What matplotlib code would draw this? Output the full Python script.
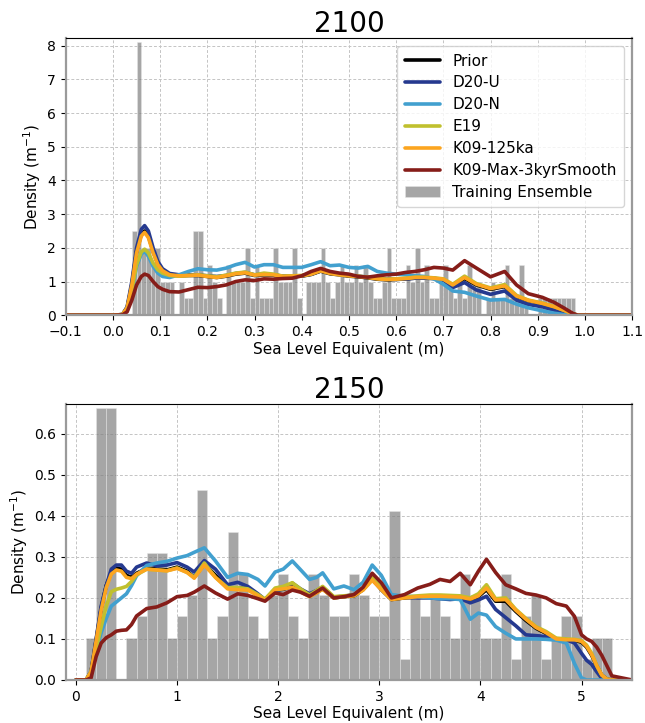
import matplotlib
matplotlib.use("Agg")
import matplotlib.pyplot as plt
import numpy as np

# ---------------- data: 2100 ----------------
hist_2100_left = np.round(np.arange(0.04, 0.98, 0.01), 2)
hist_2100_height = [2.5, 8.1, 2.0, 2.0, 1.5, 2.0, 1.0, 1.0, 1.0, 0.0,
                    1.0, 0.5, 0.5, 2.5, 2.5, 0.5, 1.5, 1.0, 0.5, 0.0,
                    1.5, 1.0, 1.0, 1.0, 2.0, 0.5, 1.5, 0.5, 0.5, 0.5,
                    2.0, 1.0, 1.0, 1.0, 2.0, 0.5, 0.0, 1.0, 1.0, 1.0,
                    2.0, 1.0, 0.5, 1.0, 1.5, 1.0, 1.0, 1.5, 1.0, 1.5,
                    1.0, 0.5, 0.5, 1.0, 2.0, 0.5, 0.5, 0.5, 1.5, 1.0,
                    2.0, 1.0, 1.5, 0.5, 0.5, 1.0, 1.5, 1.0, 0.5, 1.0,
                    0.5, 1.5, 1.0, 1.0, 0.0, 0.5, 1.0, 0.5, 0.5, 1.5,
                    0.5, 0.5, 1.5, 0.5, 0.0, 0.0, 0.5, 0.5, 0.5, 0.5,
                    0.5, 0.5, 0.5, 0.5]

x_2100 = [-0.1, 0.0, 0.02, 0.03, 0.04, 0.05, 0.06, 0.067, 0.075, 0.085,
          0.095, 0.105, 0.12, 0.14, 0.16, 0.18, 0.2, 0.22, 0.24, 0.26,
          0.28, 0.3, 0.32, 0.34, 0.36, 0.38, 0.4, 0.42, 0.44, 0.46,
          0.48, 0.5, 0.52, 0.54, 0.56, 0.58, 0.6, 0.62, 0.64, 0.66,
          0.68, 0.7, 0.72, 0.745, 0.77, 0.8, 0.83, 0.855, 0.88, 0.91,
          0.935, 0.955, 0.975, 0.985, 1.0, 1.1]

prior_2100 = [0, 0, 0.02, 0.22, 0.92, 1.9, 2.4, 2.5, 2.35, 1.9,
              1.52, 1.33, 1.21, 1.17, 1.18, 1.18, 1.15, 1.12, 1.16, 1.22,
              1.25, 1.18, 1.2, 1.19, 1.15, 1.15, 1.16, 1.21, 1.31, 1.23,
              1.2, 1.16, 1.14, 1.11, 1.07, 1.05, 1.06, 1.08, 1.1, 1.1,
              1.09, 1.05, 0.88, 1.09, 0.9, 0.77, 0.85, 0.56, 0.43, 0.34,
              0.24, 0.14, 0.04, 0, 0, 0]
d20u_2100 = [0, 0, 0.02, 0.25, 1.0, 2.0, 2.55, 2.66, 2.5, 2.0,
             1.6, 1.38, 1.24, 1.2, 1.2, 1.2, 1.17, 1.15, 1.18, 1.24,
             1.27, 1.2, 1.22, 1.2, 1.16, 1.16, 1.17, 1.22, 1.32, 1.25,
             1.22, 1.18, 1.16, 1.13, 1.1, 1.07, 1.07, 1.08, 1.1, 1.1,
             1.1, 1.05, 0.82, 0.97, 0.75, 0.62, 0.72, 0.45, 0.32, 0.25,
             0.15, 0.08, 0.02, 0, 0, 0]
d20n_2100 = [0, 0, 0.02, 0.18, 0.7, 1.45, 1.82, 1.9, 1.75, 1.45,
             1.25, 1.15, 1.12, 1.2, 1.3, 1.38, 1.35, 1.34, 1.4, 1.5,
             1.57, 1.43, 1.5, 1.5, 1.42, 1.42, 1.42, 1.5, 1.59, 1.47,
             1.49, 1.42, 1.4, 1.45, 1.3, 1.25, 1.22, 1.2, 1.17, 1.15,
             1.08, 0.92, 0.72, 0.68, 0.57, 0.45, 0.47, 0.33, 0.22, 0.13,
             0.06, 0.02, 0, 0, 0, 0]
e19_2100 = [0, 0, 0.02, 0.2, 0.75, 1.5, 1.88, 1.96, 1.85, 1.55,
            1.35, 1.25, 1.18, 1.16, 1.18, 1.2, 1.17, 1.14, 1.19, 1.25,
            1.28, 1.2, 1.25, 1.22, 1.16, 1.17, 1.18, 1.23, 1.33, 1.25,
            1.21, 1.18, 1.16, 1.13, 1.09, 1.07, 1.08, 1.1, 1.13, 1.13,
            1.11, 1.08, 0.92, 1.16, 0.94, 0.81, 0.91, 0.59, 0.45, 0.36,
            0.26, 0.15, 0.04, 0, 0, 0]
k09_125_2100 = [0, 0, 0.02, 0.22, 0.9, 1.85, 2.35, 2.46, 2.3, 1.85,
                1.5, 1.32, 1.2, 1.17, 1.18, 1.19, 1.15, 1.12, 1.17, 1.23,
                1.26, 1.19, 1.21, 1.2, 1.15, 1.16, 1.17, 1.22, 1.32, 1.24,
                1.2, 1.17, 1.15, 1.12, 1.08, 1.06, 1.07, 1.09, 1.12, 1.12,
                1.1, 1.07, 0.9, 1.12, 0.92, 0.79, 0.87, 0.57, 0.44, 0.35,
                0.25, 0.15, 0.04, 0, 0, 0]
k09_max_2100 = [0, 0, 0.01, 0.1, 0.45, 0.9, 1.15, 1.22, 1.18, 1.0,
                0.85, 0.77, 0.7, 0.69, 0.76, 0.83, 0.82, 0.85, 0.9, 1.0,
                1.05, 1.03, 1.08, 1.07, 1.09, 1.1, 1.17, 1.3, 1.39, 1.3,
                1.25, 1.22, 1.15, 1.13, 1.17, 1.2, 1.22, 1.27, 1.3, 1.35,
                1.42, 1.4, 1.34, 1.62, 1.4, 1.14, 1.3, 0.9, 0.64, 0.53,
                0.38, 0.22, 0.05, 0, 0, 0]

# ---------------- data: 2150 ----------------
hist_2150_left = np.round(np.arange(0.1, 5.3, 0.1), 1)
hist_2150_height = [0.103, 0.663, 0.663, 0.0, 0.103, 0.155, 0.31, 0.31, 0.103, 0.155,
                    0.206, 0.464, 0.103, 0.155, 0.361, 0.258, 0.155, 0.103, 0.206, 0.258,
                    0.155, 0.103, 0.258, 0.206, 0.155, 0.155, 0.258, 0.206, 0.155, 0.155,
                    0.412, 0.052, 0.206, 0.155, 0.206, 0.155, 0.103, 0.258, 0.206, 0.103,
                    0.103, 0.258, 0.052, 0.155, 0.206, 0.052, 0.103, 0.155, 0.155, 0.052,
                    0.103, 0.103]

x_2150 = [0.0, 0.1, 0.15, 0.2, 0.25, 0.3, 0.35, 0.4, 0.45, 0.5,
          0.55, 0.6, 0.7, 0.8, 0.9, 1.0, 1.1, 1.17, 1.27, 1.38,
          1.5, 1.6, 1.7, 1.8, 1.87, 1.97, 2.05, 2.14, 2.22, 2.31,
          2.38, 2.44, 2.55, 2.65, 2.75, 2.84, 2.93, 3.02, 3.12, 3.25,
          3.38, 3.5, 3.6, 3.7, 3.8, 3.9, 3.98, 4.06, 4.15, 4.25,
          4.35, 4.45, 4.55, 4.65, 4.75, 4.85, 4.93, 5.0, 5.05, 5.1,
          5.15, 5.2, 5.25, 5.3, 5.5]

prior_2150 = [0, 0, 0.02, 0.097, 0.175, 0.23, 0.262, 0.272, 0.27, 0.255,
              0.25, 0.26, 0.272, 0.27, 0.268, 0.275, 0.265, 0.25, 0.283, 0.255,
              0.225, 0.224, 0.222, 0.207, 0.195, 0.219, 0.221, 0.228, 0.217, 0.205,
              0.213, 0.222, 0.2, 0.203, 0.205, 0.22, 0.246, 0.22, 0.196, 0.2,
              0.202, 0.203, 0.202, 0.2, 0.2, 0.195, 0.203, 0.22, 0.192, 0.192,
              0.167, 0.145, 0.126, 0.113, 0.1, 0.098, 0.097, 0.092, 0.08, 0.06,
              0.034, 0.012, 0.002, 0, 0]
d20u_2150 = [0, 0, 0.02, 0.1, 0.18, 0.23, 0.27, 0.28, 0.28, 0.265,
             0.26, 0.275, 0.285, 0.278, 0.28, 0.286, 0.275, 0.263, 0.291, 0.27,
             0.232, 0.238, 0.228, 0.21, 0.196, 0.218, 0.222, 0.236, 0.222, 0.21,
             0.218, 0.226, 0.202, 0.204, 0.208, 0.222, 0.25, 0.222, 0.198, 0.202,
             0.2, 0.2, 0.198, 0.196, 0.198, 0.188, 0.195, 0.204, 0.172, 0.152,
             0.132, 0.11, 0.108, 0.106, 0.1, 0.098, 0.09, 0.065, 0.048, 0.038,
             0.02, 0.004, 0, 0, 0]
d20n_2150 = [0, 0, 0.02, 0.07, 0.115, 0.15, 0.18, 0.19, 0.2, 0.21,
             0.23, 0.254, 0.279, 0.285, 0.289, 0.297, 0.303, 0.311, 0.322, 0.29,
             0.25, 0.26, 0.257, 0.245, 0.229, 0.263, 0.27, 0.29, 0.269, 0.245,
             0.25, 0.261, 0.222, 0.229, 0.22, 0.238, 0.28, 0.255, 0.208, 0.204,
             0.203, 0.2, 0.198, 0.198, 0.196, 0.148, 0.163, 0.158, 0.13, 0.114,
             0.1, 0.1, 0.1, 0.099, 0.097, 0.09, 0.04, 0.005, 0, 0,
             0, 0, 0, 0, 0]
e19_2150 = [0, 0, 0.02, 0.075, 0.13, 0.18, 0.215, 0.221, 0.224, 0.228,
            0.24, 0.256, 0.27, 0.268, 0.266, 0.273, 0.262, 0.25, 0.285, 0.25,
            0.225, 0.225, 0.222, 0.208, 0.197, 0.224, 0.228, 0.237, 0.222, 0.207,
            0.218, 0.228, 0.203, 0.205, 0.207, 0.222, 0.252, 0.224, 0.197, 0.202,
            0.205, 0.207, 0.207, 0.206, 0.205, 0.2, 0.21, 0.232, 0.198, 0.2,
            0.172, 0.15, 0.13, 0.118, 0.102, 0.1, 0.099, 0.096, 0.085, 0.065,
            0.035, 0.012, 0.002, 0, 0]
k09_125_2150 = [0, 0, 0.02, 0.095, 0.17, 0.225, 0.258, 0.268, 0.265, 0.25,
                0.247, 0.258, 0.27, 0.268, 0.266, 0.272, 0.262, 0.248, 0.28, 0.25,
                0.222, 0.22, 0.219, 0.205, 0.194, 0.22, 0.222, 0.226, 0.215, 0.203,
                0.212, 0.221, 0.2, 0.203, 0.205, 0.219, 0.243, 0.22, 0.196, 0.2,
                0.203, 0.204, 0.204, 0.203, 0.202, 0.197, 0.205, 0.224, 0.195, 0.196,
                0.17, 0.148, 0.128, 0.115, 0.1, 0.098, 0.098, 0.094, 0.082, 0.062,
                0.035, 0.012, 0.002, 0, 0]
k09_max_2150 = [0, 0, 0.005, 0.057, 0.09, 0.103, 0.11, 0.119, 0.121, 0.122,
                0.135, 0.156, 0.174, 0.178, 0.188, 0.203, 0.206, 0.214, 0.229, 0.212,
                0.197, 0.21, 0.206, 0.198, 0.192, 0.212, 0.208, 0.219, 0.214, 0.204,
                0.215, 0.224, 0.2, 0.203, 0.208, 0.226, 0.26, 0.237, 0.2, 0.208,
                0.224, 0.233, 0.245, 0.24, 0.26, 0.232, 0.265, 0.294, 0.262, 0.232,
                0.222, 0.211, 0.207, 0.2, 0.186, 0.18, 0.155, 0.11, 0.1, 0.094,
                0.08, 0.06, 0.035, 0.01, 0]

labels = ['Prior', 'D20-U', 'D20-N', 'E19', 'K09-125ka', 'K09-Max-3kyrSmooth']
colors = ['black', '#25398f', '#42a0cf', '#c0c02e', '#fca51f', '#861d19']

panels = [
    dict(title='2100', left=hist_2100_left, height=hist_2100_height, width=0.01,
         x=x_2100, curves=[prior_2100, d20u_2100, d20n_2100, e19_2100, k09_125_2100, k09_max_2100],
         xlim=(-0.1, 1.1), ylim=(0, 8.22), xticks=np.round(np.arange(-0.1, 1.11, 0.1), 1),
         yticks=np.arange(0, 9, 1), rect=[0.102, 0.564, 0.878, 0.383]),
    dict(title='2150', left=hist_2150_left, height=hist_2150_height, width=0.1,
         x=x_2150, curves=[prior_2150, d20u_2150, d20n_2150, e19_2150, k09_125_2150, k09_max_2150],
         xlim=(-0.1, 5.5), ylim=(0, 0.672), xticks=np.arange(0, 6, 1),
         yticks=np.round(np.arange(0, 0.61, 0.1), 1), rect=[0.102, 0.0595, 0.878, 0.3815]),
]

fig = plt.figure(figsize=(6.45, 7.23), dpi=100)

for i, p in enumerate(panels):
    ax = fig.add_axes(p['rect'])
    ax.grid(True, linestyle=(0, (3, 2)), color='#c4c4c4', linewidth=0.7)
    ax.set_axisbelow(True)
    ax.bar(p['left'], p['height'], width=p['width'], align='edge',
           color='gray', alpha=0.7, edgecolor='#e6e6e6', linewidth=0.5,
           label='Training Ensemble')
    for lab, col, y in zip(labels, colors, p['curves']):
        ax.plot(p['x'], y, color=col, linewidth=2.6, label=lab,
                solid_joinstyle='round', solid_capstyle='round')
    ax.set_xlim(*p['xlim'])
    ax.set_ylim(*p['ylim'])
    ax.set_xticks(p['xticks'])
    ax.set_yticks(p['yticks'])
    ax.tick_params(labelsize=10)
    ax.set_title(p['title'], fontsize=20, pad=4)
    ax.set_xlabel('Sea Level Equivalent (m)', fontsize=11, labelpad=2)
    ax.set_ylabel('Density (m$^{-1}$)', fontsize=11, labelpad=3)
    for s in ['left', 'right', 'bottom']:
        ax.spines[s].set_color('#9a9a9a')
        ax.spines[s].set_linewidth(1.6)
    if i == 0:
        ax.legend(loc='upper right', fontsize=11, handlelength=2.3,
                  borderpad=0.5, labelspacing=0.45)

plt.savefig('out.png', dpi=100)
